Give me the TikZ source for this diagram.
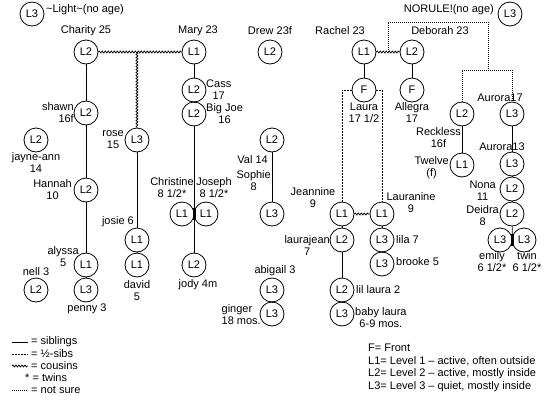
\documentclass[tikz,border=0pt]{standalone}
\usepackage{fontspec}
\setmainfont{Liberation Sans}
\usetikzlibrary{decorations.pathmorphing}

\begin{document}
\begin{tikzpicture}[x=1pt, y=-1pt,
  font=\fontsize{11}{12}\selectfont,
  kid/.style={draw, circle, minimum size=24pt, inner sep=0pt, line width=.8pt},
  lbl/.style={inner sep=0pt, align=center},
  sib/.style={line width=.8pt},
  half/.style={line width=.8pt, dash pattern=on 2pt off 1pt},
  cousin/.style={line width=.8pt, decorate,
    decoration={snake, amplitude=.9pt, segment length=3pt}},
  unsure/.style={line width=.8pt, dash pattern=on .8pt off 1.2pt},
  twinbar/.style={line width=3pt}]

\useasboundingbox (0,0) rectangle (550,400);

% One circle per kid: name/level/x/y
\foreach \n/\l/\x/\y in {
  light/L3/32/14, norule/L3/510/14,
  charity/L2/86/52, mary/L1/194/52, drew/L2/270/52,
  rachel/L1/364/52, deborah/L2/412/52,
  cass/L2/194/90, bigjoe/L2/194/114,
  laura/F/364/90, allegra/F/412/90,
  shawn/L2/86/113, reckless/L2/462/114, aurora/L3/512/114,
  jayneann/L2/36/140, rose/L3/137/140, val/L2/272/140,
  twelve/L1/462/165, aurorab/L3/512/164,
  hannah/L2/86/190, nona/L2/512/189,
  christine/L1/182/214, joseph/L1/206/214, sophie/L3/272/214,
  jeannine/L1/342/214, lauranine/L1/382/214, deidra/L2/512/214,
  josie/L1/137/240, laurajean/L2/342/240, lila/L3/382/240,
  emily/L3/500/240, twin/L3/524/240,
  alyssa/L1/86/265, david/L1/137/265, jody/L2/194/265, brooke/L3/382/264,
  nell/L2/36/290, penny/L3/86/290, abigail/L3/272/290, lillaura/L2/342/290,
  ginger/L3/272/314, babylaura/L3/342/314} {
  \node [kid] (\n) at (\x,\y) {\l};
}

% Names and ages: name/x/y/anchor/text
\foreach \n/\x/\y/\a/\t in {
  light/46/10/west/{\textasciitilde Light\textasciitilde(no age)},
  norule/494/10/east/{NORULE!(no age)},
  charity/86/31/center/{Charity 25}, mary/198/31/center/{Mary 23},
  drew/270/31/center/{Drew 23f}, rachel/340/31/center/{Rachel 23},
  deborah/440/31/center/{Deborah 23},
  cass/206/90/west/{Cass\\17}, bigjoe/206/114/west/{Big Joe\\16},
  jayneann/36/163/center/{jayne-ann\\14}, rose/124/140/east/{rose\\15},
  val/268/160/east/{Val 14}, sophie/271/181/east/{Sophie\\8},
  christine/172/188/center/{Christine\\8 1/2*},
  joseph/214/188/center/{Joseph\\8 1/2*},
  josie/134/222/east/{josie 6}, hannah/72/190/east/{Hannah\\10},
  alyssa/79/257/east/{alyssa\\5}, nell/36/272/center/{nell 3},
  penny/87/309/center/{penny 3}, david/137/291/center/{david\\5},
  jody/198/285/center/{jody 4m},
  laura/364/113/center/{Laura\\17 1/2}, allegra/412/113/center/{Allegra\\17},
  jeannine/313/198/center/{Jeannine\\9}, lauranine/411/203/center/{Lauranine\\9},
  laurajean/330/246/east/{laurajean\\7},
  lila/396/240/west/{lila 7}, brooke/396/262/west/{brooke 5},
  abigail/275/271/center/{abigail 3}, lillaura/356/290/west/{lil laura 2},
  babylaura/355/318/west/{baby laura\\6-9 mos.},
  aurora/500/98/center/{Aurora17}, reckless/461/138/east/{Reckless\\16f},
  twelve/449/168/east/{Twelve\\(f)}, aurorab/502/147/center/{Aurora13},
  nona/496/191/east/{Nona\\11}, deidra/499/216/east/{Deidra\\8},
  emily/492/262/center/{emily\\6 1/2*}, twin/527/262/center/{twin\\6 1/2*}} {
  \node [lbl, anchor=\a] (\n-lab) at (\x,\y) {\t};
}
\node [lbl, align=right, anchor=east] (shawn-lab) at (74,113) {shawn\\16f};
\node [lbl, align=left, anchor=east] (ginger-lab) at (261,315) {ginger\\18 mos.};

% Siblings
\foreach \a/\b in {charity/shawn, shawn/hannah, hannah/alyssa, alyssa/penny,
  rose/josie, josie/david, mary/cass, cass/bigjoe, bigjoe/jody, val/sophie,
  rachel/laura, deborah/allegra, jeannine/laurajean, laurajean/lillaura,
  lillaura/babylaura, lauranine/lila, lila/brooke, abigail/ginger,
  reckless/twelve, aurora/aurorab, aurorab/nona, nona/deidra} {
  \draw [sib] (\a) -- (\b);
}
\draw [sib] (deidra) -- (emily.east);

% Twins
\draw [twinbar] ([yshift=6pt]christine.east) -- ([yshift=-6pt]christine.east);
\draw [twinbar] ([yshift=6pt]emily.east) -- ([yshift=-6pt]emily.east);

% Cousins
\coordinate (cm) at (137,52);
\draw [cousin] (charity) -- (mary);
\draw [cousin] (cm) -- (rose);
\draw [cousin] (rachel) -- (deborah);
\draw [cousin] (jeannine) -- (lauranine);

% Half sibs
\draw [half] (laura.west) -| (jeannine.north);
\draw [half] (laura.east) -| (lauranine.north);

% Not sure
\coordinate (rd) at (388,52);
\coordinate (bend) at (488,22);
\coordinate (split) at (488,70);
\draw [unsure] (rd) |- (bend) -- (split);
\draw [unsure] (reckless.north) |- (split) -| (aurora.north);

% Key, lines
\foreach \s/\t/\y in {sib/siblings/342, half/{½-sibs}/354,
  cousin/cousins/366, unsure/{not sure}/390} {
  \draw [\s] (12,\y) -- (28,\y);
  \node [lbl, anchor=west] (key-\s) at (31,\y) {= \t};
}
\node [lbl, anchor=west] (key-twins) at (25,378) {* = twins};

% Key, levels
\foreach \t [count=\i] in {{F= Front}, {L1= Level 1 -- active, often outside},
  {L2= Level 2 -- active, mostly inside}, {L3= Level 3 -- quiet, mostly inside}} {
  \node [lbl, anchor=west] (lvl-\i) at (368,335+13*\i) {\t};
}

\end{tikzpicture}
\end{document}
